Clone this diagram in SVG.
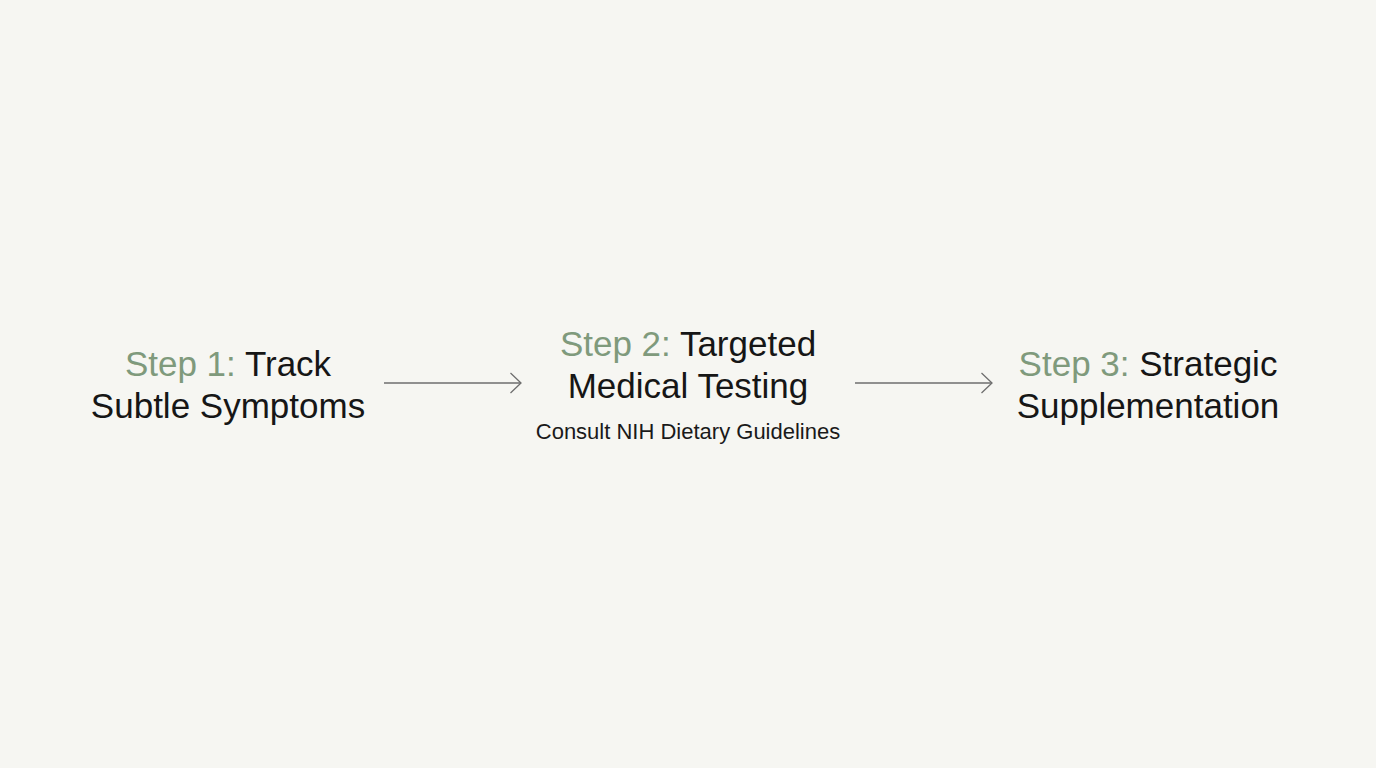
<svg xmlns="http://www.w3.org/2000/svg" width="1376" height="768" viewBox="0 0 1376 768">
<defs>
<style>
.t{font-family:"Liberation Sans",Arial,sans-serif;font-size:35px;fill:#161616;text-anchor:middle}
.g{fill:#7f9a7c}
.s{font-family:"Liberation Sans",Arial,sans-serif;font-size:22px;fill:#1a1a1a;text-anchor:middle}
.c{stroke:#6e6e6e;stroke-width:1.3;fill:none}
</style>
<marker id="ah" viewBox="0 0 14 22" refX="12" refY="11" markerWidth="14" markerHeight="22" markerUnits="userSpaceOnUse" orient="auto">
<path d="M1.5,1 L12,11 L1.5,21" fill="none" stroke="#6e6e6e" stroke-width="1.3"/>
</marker>
</defs>
<rect width="1376" height="768" fill="#f6f6f2"/>
<g id="connectors">
<line class="c" x1="384" y1="383" x2="521" y2="383" marker-end="url(#ah)"/>
<line class="c" x1="855" y1="383" x2="992" y2="383" marker-end="url(#ah)"/>
</g>
<g id="step1">
<text class="t" x="228" y="376"><tspan class="g">Step 1:</tspan> Track</text>
<text class="t" x="228" y="418">Subtle Symptoms</text>
</g>
<g id="step2">
<text class="t" x="688" y="356"><tspan class="g">Step 2:</tspan> Targeted</text>
<text class="t" x="688" y="398">Medical Testing</text>
<text class="s" x="688" y="439">Consult NIH Dietary Guidelines</text>
</g>
<g id="step3">
<text class="t" x="1148" y="376"><tspan class="g">Step 3:</tspan> Strategic</text>
<text class="t" x="1148" y="418">Supplementation</text>
</g>
</svg>
